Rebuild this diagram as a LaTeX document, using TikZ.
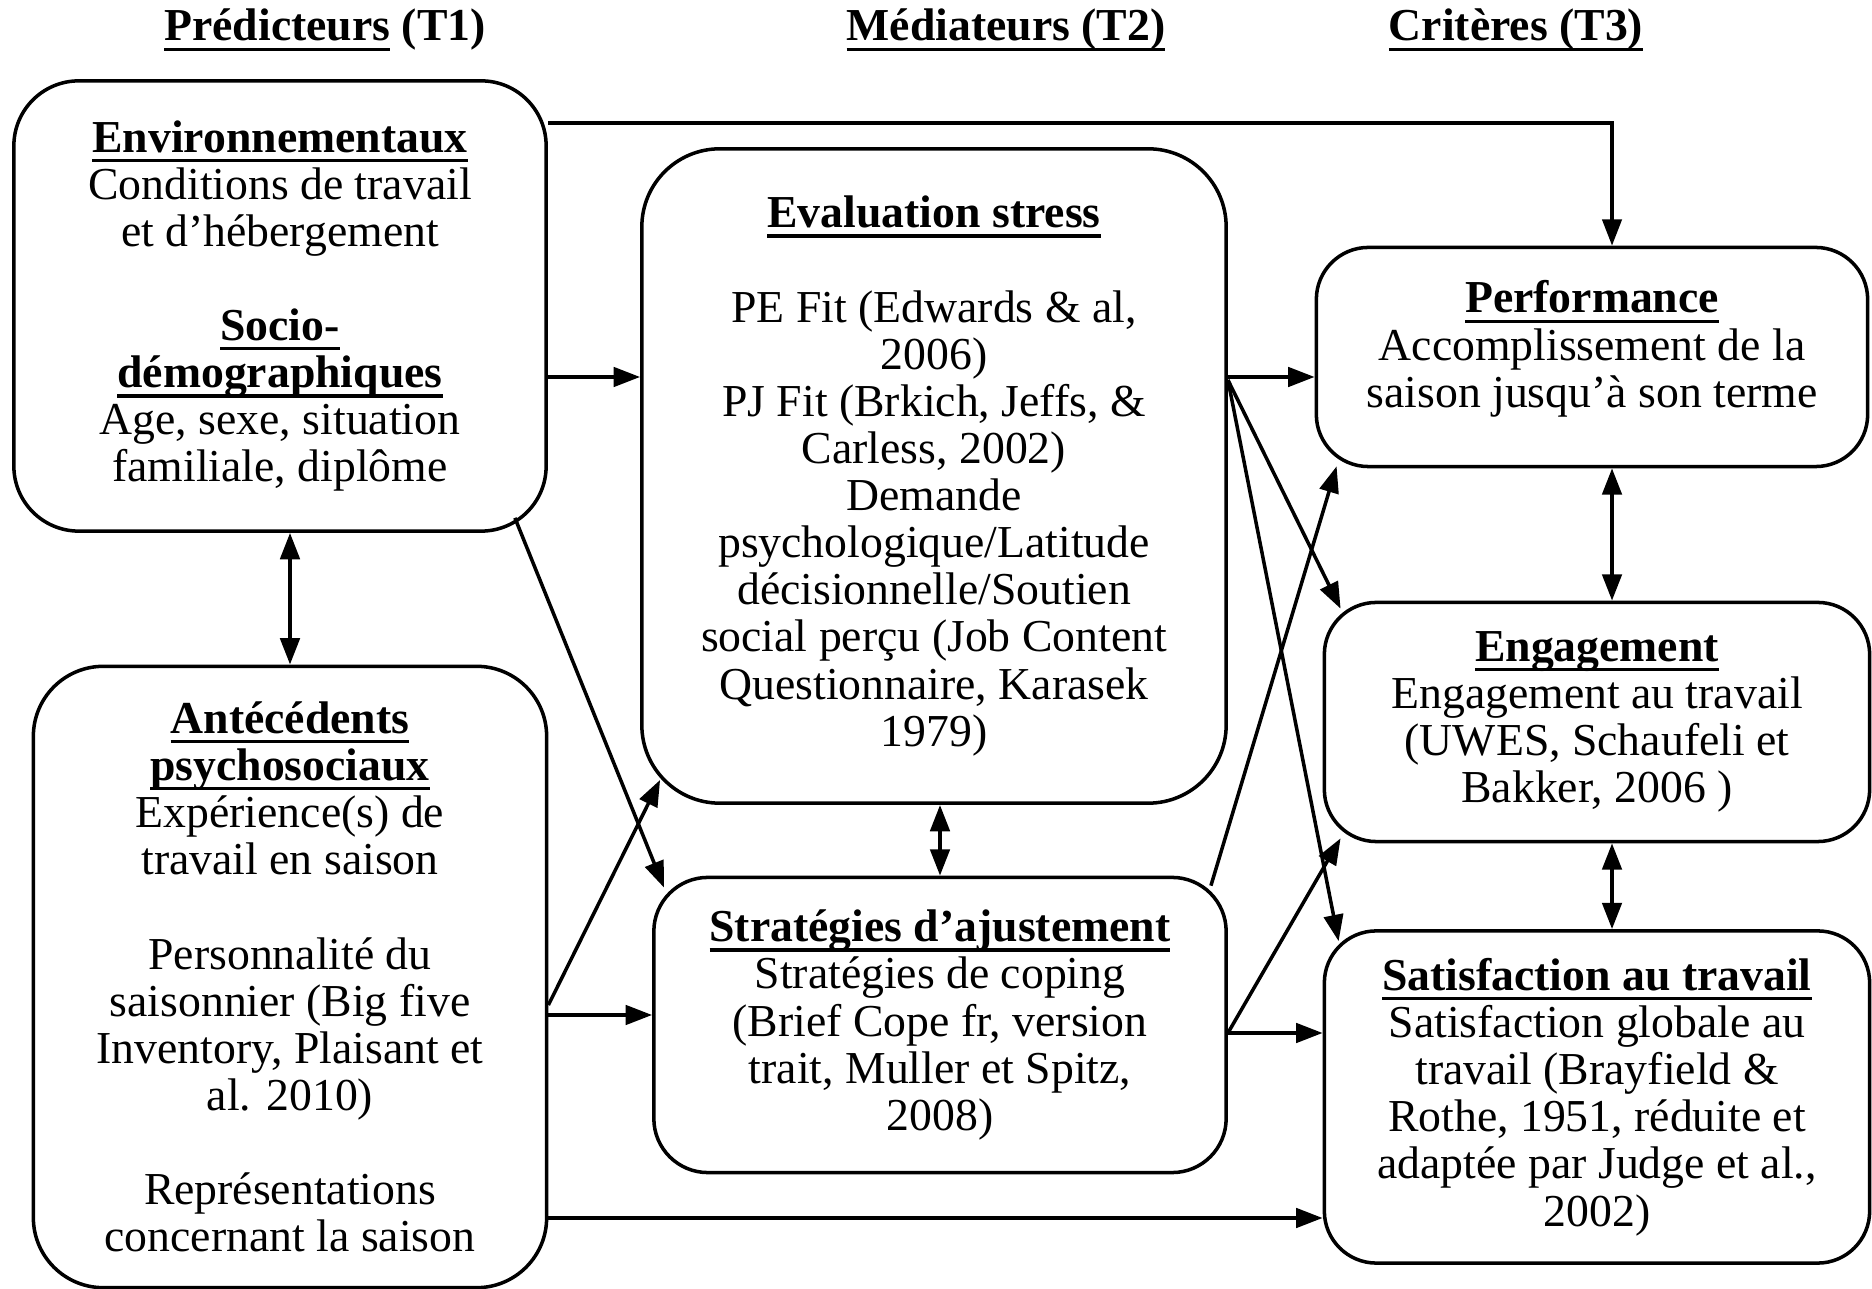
\documentclass[tikz,border=0pt]{standalone}
\usepackage{fontspec}
\setmainfont{Liberation Serif}
\usetikzlibrary{arrows.meta}
\newcommand{\souligne}[1]{\leavevmode\setbox0\hbox{#1}\rlap{\rule[-2.8pt]{\wd0}{0.9pt}}\box0\relax}

\begin{document}
\begin{tikzpicture}[x=0.01cm,y=-0.01cm,
  bloc/.style={draw,line width=1pt,align=center,inner sep=0pt,
               font=\fontsize{13}{13.4}\selectfont},
  titre/.style={font=\fontsize{13}{14}\selectfont\bfseries},
  fl/.style={-{Triangle[length=7.5pt,width=5.5pt]},line width=1pt},
  dfl/.style={{Triangle[length=7.5pt,width=5.5pt]}-{Triangle[length=7.5pt,width=5.5pt]},line width=1.1pt}]
  \useasboundingbox (0,0) rectangle (1872,1289);

  \node[titre] (h1) at (325,30)  {\souligne{Prédicteurs} (T1)};
  \node[titre] (h2) at (1006,30) {\souligne{Médiateurs (T2)}};
  \node[titre] (h3) at (1516,30) {\souligne{Critères (T3)}};

  \node[bloc,rounded corners=0.65cm,minimum width=5.32cm,minimum height=4.5cm] (env) at (280,306)
    {\textbf{\souligne{Environnementaux}}\\Conditions de travail\\et d’hébergement\\[13.4pt]
     \textbf{\souligne{Socio-}}\\\textbf{\souligne{démographiques}}\\Age, sexe, situation\\familiale, diplôme};
  \node[bloc,rounded corners=0.7cm,minimum width=5.13cm,minimum height=6.21cm] (ant) at (290,977)
    {\textbf{\souligne{Antécédents}}\\\textbf{\souligne{psychosociaux}}\\Expérience(s) de\\travail en saison\\[13.4pt]
     Personnalité du\\saisonnier (Big five\\Inventory, Plaisant et\\al. 2010)\\[13.4pt]
     Représentations\\concernant la saison};
  \node[bloc,rounded corners=0.78cm,minimum width=5.84cm,minimum height=6.54cm] (eval) at (934,476)
    {\textbf{\souligne{Evaluation stress}}\\[13.4pt]PE Fit (Edwards \& al,\\2006)\\PJ Fit (Brkich, Jeffs, \&\\Carless, 2002)\\
     Demande\\psychologique/Latitude\\décisionnelle/Soutien\\social perçu (Job Content\\Questionnaire, Karasek\\1979)};
  \node[bloc,rounded corners=0.54cm,minimum width=5.72cm,minimum height=2.95cm] (strat) at (940,1025)
    {\textbf{\souligne{Stratégies d’ajustement}}\\Stratégies de coping\\(Brief Cope fr, version\\trait, Muller et Spitz,\\2008)};
  \node[bloc,rounded corners=0.52cm,minimum width=5.51cm,minimum height=2.19cm] (perf) at (1592,357)
    {\textbf{\souligne{Performance}}\\Accomplissement de la\\saison jusqu’à son terme\\[-6pt]\mbox{}};
  \node[bloc,rounded corners=0.52cm,minimum width=5.45cm,minimum height=2.39cm] (eng) at (1597,722)
    {\textbf{\souligne{Engagement}}\\Engagement au travail\\(UWES, Schaufeli et\\Bakker, 2006 )};
  \node[bloc,rounded corners=0.52cm,minimum width=5.45cm,minimum height=3.32cm] (sat) at (1597,1097)
    {\textbf{\souligne{Satisfaction au travail}}\\Satisfaction globale au\\travail (Brayfield \&\\Rothe, 1951, réduite et\\adaptée par Judge et al.,\\2002)};

  % predicteurs
  \draw[fl] (env.east |- 0,123) -| ([xshift=0.2cm]perf.north);
  \draw[fl] (env.east |- 0,377) -- (eval.west |- 0,377);
  \draw[fl] ([xshift=-0.33cm,yshift=0.15cm]env.south east) -- ([xshift=0.12cm,yshift=-0.12cm]strat.north west);
  \draw[fl] (ant.east |- 0,1005) -- ([xshift=0.2cm,yshift=0.25cm]eval.south west);
  \draw[fl] (ant.east |- 0,1015) -- (strat.west |- 0,1015);
  \draw[fl] (ant.east |- 0,1218) -- (sat.west |- 0,1218);
  % mediateurs
  \draw[fl] (eval.east |- 0,377) -- (perf.west |- 0,377);
  \draw[fl] (eval.east |- 0,380) -- ([xshift=0.18cm,yshift=-0.08cm]eng.north west);
  \draw[fl] (eval.east |- 0,380) -- ([xshift=0.16cm,yshift=-0.12cm]sat.north west);
  \draw[fl] ([xshift=-0.17cm,yshift=-0.1cm]strat.north east) -- ([xshift=0.22cm,yshift=0.02cm]perf.south west);
  \draw[fl] (strat.east |- 0,1033) -- ([xshift=0.18cm,yshift=0.05cm]eng.south west);
  \draw[fl] (strat.east |- 0,1033) -- (sat.west |- 0,1033);
  % liens reciproques
  \draw[dfl] (env.south -| ant.north) -- (ant.north);
  \draw[dfl] (eval.south -| strat.north) -- (strat.north);
  \draw[dfl] ([xshift=0.15cm]eng.north |- perf.south) -- ([xshift=0.15cm]eng.north);
  \draw[dfl] ([xshift=0.15cm]sat.north |- eng.south) -- ([xshift=0.15cm]sat.north);
\end{tikzpicture}
\end{document}
